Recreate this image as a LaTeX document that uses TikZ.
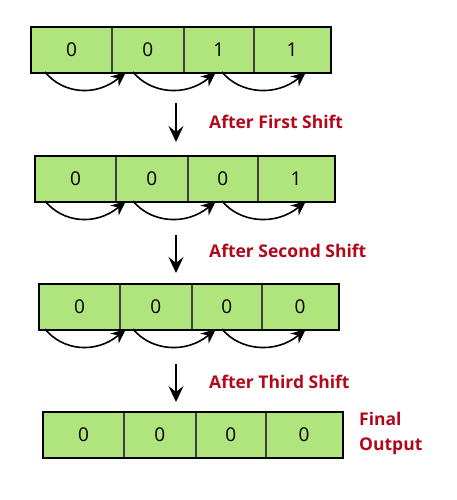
\documentclass[tikz,border=0pt]{standalone}
\usepackage{fontspec}
\setmainfont{Open Sans}
\usetikzlibrary{arrows.meta}
\definecolor{cellgreen}{RGB}{176,228,124}
\definecolor{labred}{RGB}{178,8,28}
\tikzset{
  cell/.style={draw=black!75,line width=.9pt,fill=cellgreen,minimum height=45pt,inner sep=0pt,font=\fontsize{19}{19}\selectfont},
  rowframe/.style={draw=black,line width=2pt},
  shiftarc/.style={line width=1.6pt,-{Stealth[length=15pt,width=13pt,inset=5pt]}},
  downarrow/.style={line width=2pt,-{Stealth[length=16pt,width=15pt,inset=6pt]}},
  steplabel/.style={anchor=west,inner sep=0pt,text=labred,font=\fontsize{17.5}{25}\selectfont\bfseries}
}
\begin{document}
\begin{tikzpicture}[x=1pt,y=-1pt]
  \useasboundingbox (0,0) rectangle (457,500);
  % rows: number/left/top/values
  \foreach \r/\lx/\ty/\va/\vb/\vc/\vd in {1/31/27/0/0/1/1,2/35/156/0/0/0/1,3/39/284/0/0/0/0,4/43/412/0/0/0/0}{
    \node[cell,minimum width=80pt,anchor=north west] (r\r c1) at (\lx,\ty) {\va};
    \node[cell,minimum width=71pt,anchor=north west] (r\r c2) at (r\r c1.north east) {\vb};
    \node[cell,minimum width=69pt,anchor=north west] (r\r c3) at (r\r c2.north east) {\vc};
    \node[cell,minimum width=76pt,anchor=north west] (r\r c4) at (r\r c3.north east) {\vd};
    \draw[rowframe] (r\r c1.north west) rectangle (r\r c4.south east);
  }
  \foreach \r in {1,2,3}{
    \foreach \s/\e [count=\k] in {45/126,133/216,222/306}{
      \coordinate (s\r\k) at (\s,{\r==1 ? 72 : (\r==2 ? 201 : 329)});
      \coordinate (e\r\k) at (\e,{\r==1 ? 72 : (\r==2 ? 201 : 329)});
      \draw[shiftarc] (s\r\k) .. controls +(18,22) and +(-30,25) .. (e\r\k);
    }
  }
  \coordinate (a1) at (176,103); \coordinate (b1) at (176,142);
  \coordinate (a2) at (176,235); \coordinate (b2) at (176,273);
  \coordinate (a3) at (176,364); \coordinate (b3) at (176,402);
  \foreach \k in {1,2,3} \draw[downarrow] (a\k) -- (b\k);
  \node[steplabel] (lab1) at (209,122) {After First Shift};
  \node[steplabel] (lab2) at (209,251) {After Second Shift};
  \node[steplabel] (lab3) at (209,382) {After Third Shift};
  \node[steplabel,align=left] (lab4) at (359,433) {Final\\Output};
\end{tikzpicture}
\end{document}
